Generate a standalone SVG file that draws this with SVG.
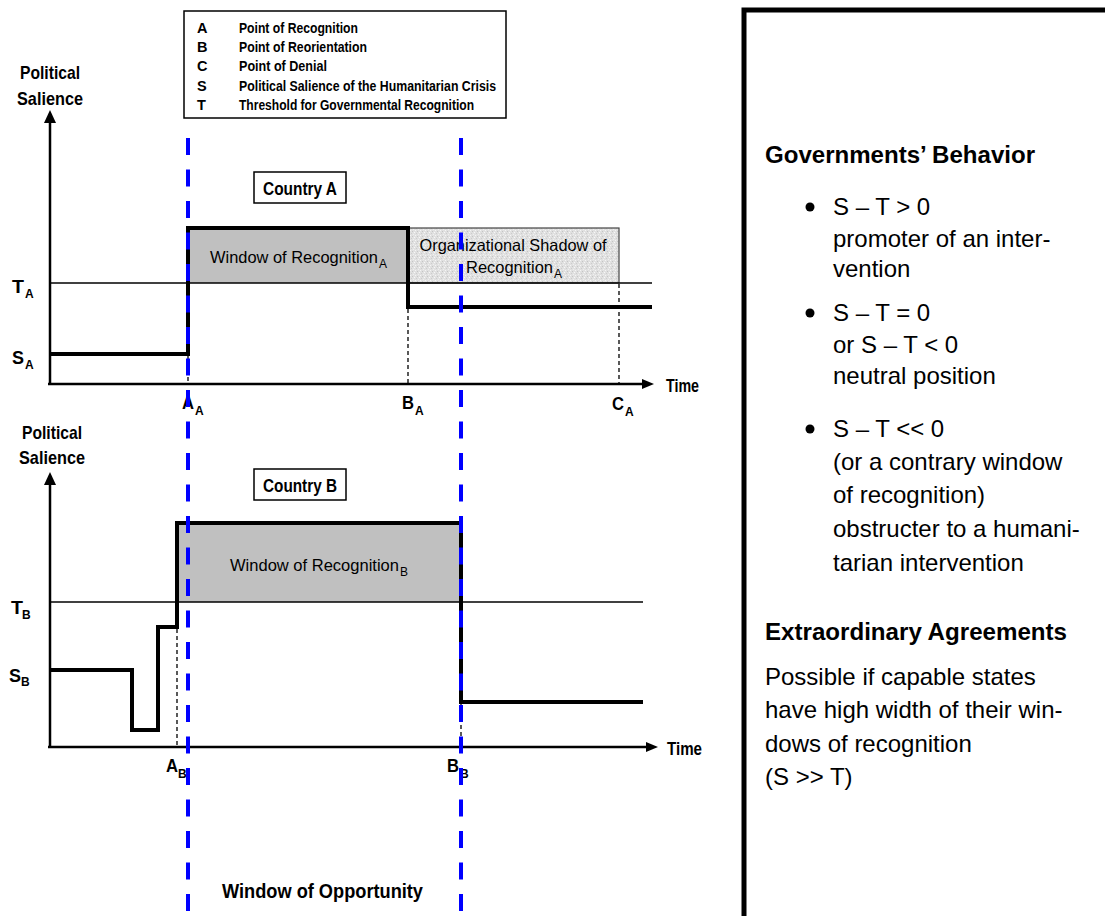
<svg xmlns="http://www.w3.org/2000/svg" width="1105" height="916" viewBox="0 0 1105 916">
<defs>
<pattern id="speckle" width="5" height="5" patternUnits="userSpaceOnUse">
<rect width="5" height="5" fill="#e0e0e0"/>
<rect x="0" y="0" width="1" height="1" fill="#f5f5f5"/>
<rect x="2" y="1" width="1" height="1" fill="#c4c4c4"/>
<rect x="4" y="2" width="1" height="1" fill="#f8f8f8"/>
<rect x="1" y="3" width="1" height="1" fill="#cccccc"/>
<rect x="3" y="4" width="1" height="1" fill="#f0f0f0"/>
</pattern>
<style>
text{font-family:"Liberation Sans",Arial,sans-serif;fill:#000}
.b{font-weight:bold}
.lg{font-size:14.5px;font-weight:bold}
.ax{font-size:19px;font-weight:bold}
.lbl{font-size:18px;font-weight:bold}
.sub{font-size:12px;font-weight:bold}
.subr{font-size:12px}
.win{font-size:16.5px}
.rp{font-size:24px}
.rh{font-size:23.5px;font-weight:bold}
.thick{fill:none;stroke:#000;stroke-width:4;stroke-linejoin:miter}
.axis{fill:none;stroke:#000;stroke-width:2.5}
.thr{fill:none;stroke:#000;stroke-width:1.5}
.dsh{fill:none;stroke:#000;stroke-width:1.3;stroke-dasharray:4 3}
.blue{fill:none;stroke:#0000ff;stroke-width:4;stroke-dasharray:17 14.5}
</style>
</defs>
<rect width="1105" height="916" fill="#fff"/>

<g id="legend">
<rect x="184" y="11" width="322" height="107" fill="#fff" stroke="#000" stroke-width="1.5"/>
<text class="lg" x="197" y="33">A</text><text class="lg" x="239" y="33" textLength="119" lengthAdjust="spacingAndGlyphs">Point of Recognition</text>
<text class="lg" x="197" y="52">B</text><text class="lg" x="239" y="52" textLength="128" lengthAdjust="spacingAndGlyphs">Point of Reorientation</text>
<text class="lg" x="197" y="71">C</text><text class="lg" x="239" y="71" textLength="88" lengthAdjust="spacingAndGlyphs">Point of Denial</text>
<text class="lg" x="197" y="91">S</text><text class="lg" x="239" y="91" textLength="257" lengthAdjust="spacingAndGlyphs">Political Salience of the Humanitarian Crisis</text>
<text class="lg" x="197" y="110">T</text><text class="lg" x="239" y="110" textLength="235" lengthAdjust="spacingAndGlyphs">Threshold for Governmental Recognition</text>
</g>

<g id="chartA">
<rect x="188" y="228" width="220" height="55" fill="#c0c0c0"/>
<rect x="408" y="228" width="211" height="55" fill="url(#speckle)" stroke="#444" stroke-width="1.2"/>
<path class="thr" d="M50 283 H652"/>
<path class="axis" d="M50 122 V385"/>
<polygon points="50,110 44,123 56,123" fill="#000"/>
<path class="axis" d="M48 384 H643"/>
<polygon points="654,384 642,379 642,389" fill="#000"/>
<path class="thick" d="M50 354 H188 V228 H408 V307 H652"/>
<path class="dsh" d="M188 356 V384 M408 309 V384 M619 284 V384"/>
<text class="ax" x="50" y="79" text-anchor="middle" textLength="60" lengthAdjust="spacingAndGlyphs">Political</text>
<text class="ax" x="50" y="105" text-anchor="middle" textLength="66" lengthAdjust="spacingAndGlyphs">Salience</text>
<text class="lbl" x="12" y="293"><tspan textLength="12" lengthAdjust="spacingAndGlyphs">T</tspan><tspan class="sub" x="25" dy="5">A</tspan></text>
<text class="lbl" x="12" y="364"><tspan textLength="12" lengthAdjust="spacingAndGlyphs">S</tspan><tspan class="sub" x="25" dy="5">A</tspan></text>
<text class="lbl" x="666" y="392" textLength="33" lengthAdjust="spacingAndGlyphs">Time</text>
<text class="lbl" x="182" y="409"><tspan textLength="12" lengthAdjust="spacingAndGlyphs">A</tspan><tspan class="sub" x="195" dy="6">A</tspan></text>
<text class="lbl" x="402" y="409"><tspan textLength="12" lengthAdjust="spacingAndGlyphs">B</tspan><tspan class="sub" x="415" dy="6">A</tspan></text>
<text class="lbl" x="612" y="410"><tspan textLength="12" lengthAdjust="spacingAndGlyphs">C</tspan><tspan class="sub" x="625" dy="6">A</tspan></text>
<rect x="254" y="172" width="92" height="31" fill="#fff" stroke="#000" stroke-width="1.5"/>
<text class="lbl" x="300" y="195" text-anchor="middle" textLength="74" lengthAdjust="spacingAndGlyphs">Country A</text>
<text class="win" x="210" y="263"><tspan textLength="168" lengthAdjust="spacingAndGlyphs">Window of Recognition</tspan><tspan class="subr" x="379" dy="5">A</tspan></text>
<text class="win" x="513" y="251" text-anchor="middle" textLength="187" lengthAdjust="spacingAndGlyphs">Organizational Shadow of</text>
<text class="win" x="466" y="273"><tspan textLength="87" lengthAdjust="spacingAndGlyphs">Recognition</tspan><tspan class="subr" x="554" dy="5">A</tspan></text>
</g>

<g id="chartB">
<rect x="177" y="523" width="284" height="79" fill="#c0c0c0"/>
<path class="thr" d="M50 602 H643"/>
<path class="axis" d="M50 484 V748"/>
<polygon points="50,472 44,485 56,485" fill="#000"/>
<path class="axis" d="M48 747 H647"/>
<polygon points="658,747 646,742 646,752" fill="#000"/>
<path class="thick" d="M50 670 H132 V730 H158 V627 H177 V523 H461 V702 H643"/>
<path class="dsh" d="M177 629 V747 M461 704 V747"/>
<text class="ax" x="52" y="439" text-anchor="middle" textLength="60" lengthAdjust="spacingAndGlyphs">Political</text>
<text class="ax" x="52" y="464" text-anchor="middle" textLength="66" lengthAdjust="spacingAndGlyphs">Salience</text>
<text class="lbl" x="11" y="614"><tspan textLength="12" lengthAdjust="spacingAndGlyphs">T</tspan><tspan class="sub" x="22" dy="5">B</tspan></text>
<text class="lbl" x="9" y="682"><tspan textLength="12" lengthAdjust="spacingAndGlyphs">S</tspan><tspan class="sub" x="21" dy="4">B</tspan></text>
<text class="lbl" x="667" y="755" textLength="35" lengthAdjust="spacingAndGlyphs">Time</text>
<text class="lbl" x="166" y="772"><tspan textLength="12" lengthAdjust="spacingAndGlyphs">A</tspan><tspan class="sub" x="178" dy="6">B</tspan></text>
<text class="lbl" x="447" y="772"><tspan textLength="12" lengthAdjust="spacingAndGlyphs">B</tspan><tspan class="sub" x="460" dy="6">B</tspan></text>
<rect x="254" y="469" width="92" height="31" fill="#fff" stroke="#000" stroke-width="1.5"/>
<text class="lbl" x="300" y="492" text-anchor="middle" textLength="74" lengthAdjust="spacingAndGlyphs">Country B</text>
<text class="win" x="230" y="571"><tspan textLength="169" lengthAdjust="spacingAndGlyphs">Window of Recognition</tspan><tspan class="subr" x="400" dy="5">B</tspan></text>
</g>

<g id="connectors">
<path class="blue" d="M188 138 V912"/>
<path class="blue" d="M461 138 V912"/>
</g>
<text class="b" x="222" y="898" font-size="20" textLength="201" lengthAdjust="spacingAndGlyphs">Window of Opportunity</text>

<g id="panel">
<path d="M744 916 V10 H1105" fill="none" stroke="#000" stroke-width="5"/>
<text class="rh" x="765" y="163" textLength="270" lengthAdjust="spacingAndGlyphs">Governments’ Behavior</text>
<circle cx="810" cy="207" r="4.5" fill="#000"/>
<text class="rp" x="833" y="215">S – T &gt; 0</text>
<text class="rp" x="833" y="247">promoter of an inter-</text>
<text class="rp" x="833" y="277">vention</text>
<circle cx="810" cy="313" r="4.5" fill="#000"/>
<text class="rp" x="833" y="321">S – T = 0</text>
<text class="rp" x="833" y="353">or S – T &lt; 0</text>
<text class="rp" x="833" y="384">neutral position</text>
<circle cx="810" cy="429" r="4.5" fill="#000"/>
<text class="rp" x="833" y="437">S – T &lt;&lt; 0</text>
<text class="rp" x="833" y="470">(or a contrary window</text>
<text class="rp" x="833" y="503">of recognition)</text>
<text class="rp" x="833" y="537">obstructer to a humani-</text>
<text class="rp" x="833" y="571">tarian intervention</text>
<text class="rh" x="765" y="640" textLength="302" lengthAdjust="spacingAndGlyphs">Extraordinary Agreements</text>
<text class="rp" x="765" y="685">Possible if capable states</text>
<text class="rp" x="765" y="718">have high width of their win-</text>
<text class="rp" x="765" y="752">dows of recognition</text>
<text class="rp" x="765" y="785">(S &gt;&gt; T)</text>
</g>
</svg>
